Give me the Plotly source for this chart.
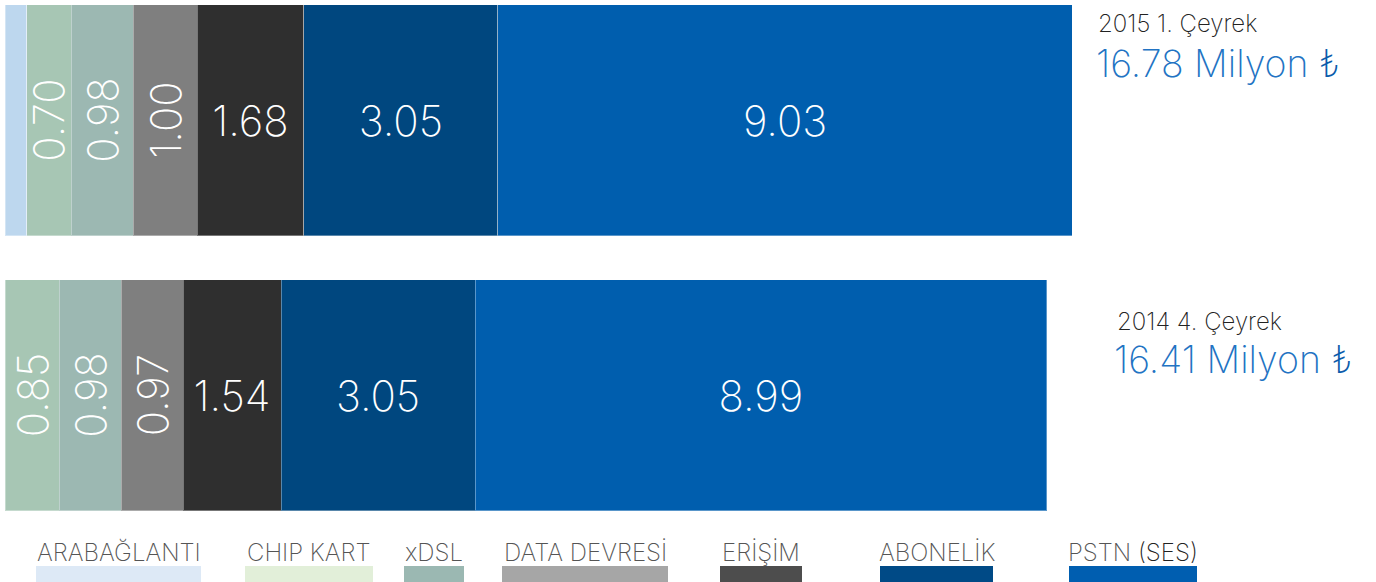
import plotly.graph_objects as go

# ---- data ----
periods = ["2014 4. Çeyrek", "2015 1. Çeyrek"]          # bottom, top
totals = [16.41, 16.78]
categories = ["ARABAĞLANTI", "CHIP KART", "xDSL", "DATA DEVRESİ", "ERİŞİM", "ABONELİK", "PSTN (SES)"]
arabaglanti = [0.0, 0.34]
chip_kart = [0.85, 0.70]
xdsl = [0.98, 0.98]
data_devresi = [0.97, 1.00]
erisim = [1.54, 1.68]
abonelik = [3.05, 3.05]
pstn = [8.99, 9.03]
series = [arabaglanti, chip_kart, xdsl, data_devresi, erisim, abonelik, pstn]

# ---- style ----
bar_colors = ["#bdd7ee", "#a7c6b4", "#9cb8b2", "#7f7f7f", "#2f2f2f", "#00477f", "#005eae"]
legend_colors = ["#dde9f6", "#e2efd9", "#9bb8b2", "#a6a6a6", "#4d4d4d", "#004a86", "#005eb0"]
text_angles = [0, -90, -90, -90, 0, 0, 0]
show_text = [False, True, True, True, True, True, True]
FONT = "Inter"
W, H = 1376, 582

fig = go.Figure()
for name, vals, col, ang, st in zip(categories, series, bar_colors, text_angles, show_text):
    fig.add_trace(go.Bar(
        y=periods, x=vals, name=name, orientation="h",
        marker=dict(color=col, line=dict(color="rgba(255,255,255,0.35)", width=1)),
        text=vals if st else None,
        texttemplate="%{x:.2f}" if st else None,
        textposition="inside" if st else "none",
        insidetextanchor="middle",
        textangle=ang,
        constraintext="none",
        insidetextfont=dict(family=FONT, size=42, color="white", weight=200),
        width=0.84,
        hoverinfo="skip",
        showlegend=False,
    ))

annotations = []
shapes = []

# right-hand period labels and totals
period_pos = {"2015 1. Çeyrek": (1096, 24, 1094, 63), "2014 4. Çeyrek": (1115, 321, 1112, 359)}
for p, t in zip(periods, totals):
    x1, y1, x2, y2 = period_pos[p]
    annotations.append(dict(xref="paper", yref="paper", x=x1 / W, y=1 - y1 / H,
                            xanchor="left", yanchor="middle", showarrow=False,
                            text=p, font=dict(family=FONT, size=24, color="#222222", weight=200)))
    annotations.append(dict(xref="paper", yref="paper", x=x2 / W, y=1 - y2 / H,
                            xanchor="left", yanchor="middle", showarrow=False,
                            text=f"{t:.2f} Milyon <span style='color:#0b5cab'>₺</span>",
                            font=dict(family=FONT, size=37.5, color="#2273c3", weight=200)))

# custom legend: label above a colour bar
legend_boxes = [(36, 201), (245, 373), (404, 464), (502, 668), (720, 802), (880, 993), (1069, 1197)]
for name, col, (a, b) in zip(categories, legend_colors, legend_boxes):
    label = name
    if name == "PSTN (SES)":
        label = "PSTN <span style='color:#222222'>(SES)</span>"
    annotations.append(dict(xref="paper", yref="paper", x=(a + b) / 2 / W, y=1 - 552 / H,
                            xanchor="center", yanchor="middle", showarrow=False,
                            text=label, font=dict(family=FONT, size=24, color="#555555", weight=200)))
    shapes.append(dict(type="rect", xref="paper", yref="paper", x0=a / W, x1=b / W,
                       y0=1 - 600 / H, y1=1 - 566 / H, fillcolor=col, line=dict(width=0), layer="above"))

px_per_unit = 63.6
fig.update_layout(
    width=W, height=H,
    barmode="stack",
    margin=dict(l=0, r=0, t=0, b=0),
    paper_bgcolor="white", plot_bgcolor="white",
    xaxis=dict(range=[-5 / px_per_unit, (W - 5) / px_per_unit], visible=False, fixedrange=True),
    yaxis=dict(type="category", categoryorder="array", categoryarray=periods,
               range=[-0.68, 1.4364], visible=False, fixedrange=True),
    annotations=annotations,
    shapes=shapes,
    showlegend=False,
)

fig.write_html("out.html", config={"displayModeBar": False},
               post_script="document.body.style.margin='0';")
